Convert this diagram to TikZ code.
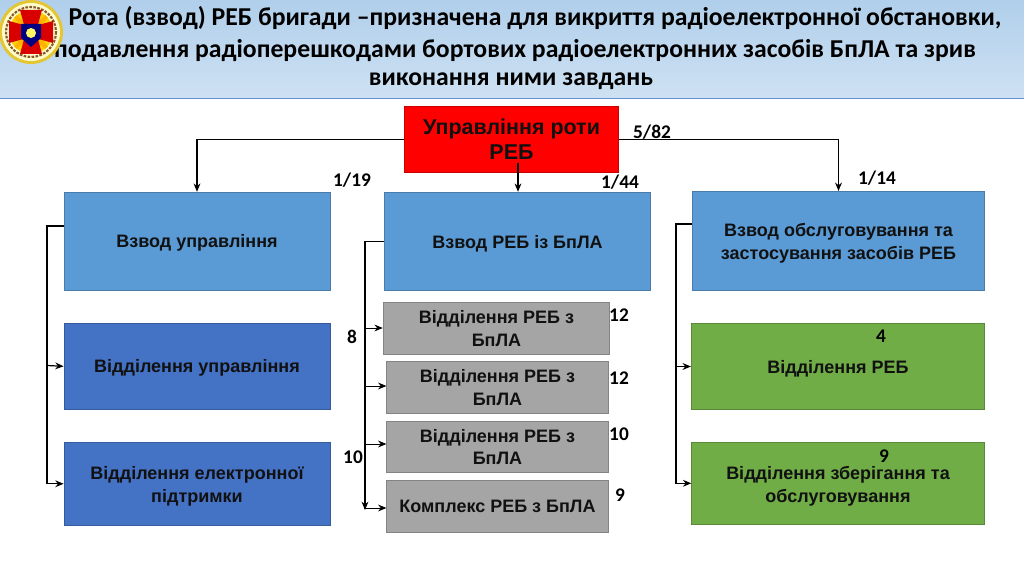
\documentclass[tikz,border=0pt]{standalone}
\usepackage{fontspec}
\setmainfont{Liberation Sans}
\newfontfamily\headfont{Carlito}
\usepackage{xcolor}
\usetikzlibrary{arrows.meta,positioning,calc}
\definecolor{rebblue}{HTML}{5B9BD5}
\definecolor{rebdark}{HTML}{4472C4}
\definecolor{rebgray}{HTML}{A5A5A5}
\definecolor{rebgreen}{HTML}{70AD47}
\definecolor{rebred}{HTML}{FF0000}
\definecolor{rebtext}{HTML}{111111}

\begin{document}
\begin{tikzpicture}[
  x=0.75pt,y=-0.75pt,
  box/.style={draw=#1!80!black,fill=#1,line width=0.6pt,align=center,text=rebtext,font=\fontsize{13.5}{17}\selectfont\bfseries,inner sep=1pt},
  low/.style={text height=12.5pt},
  headline/.style={font=\headfont\fontsize{19.3}{23}\selectfont\bfseries,text=black,inner sep=0pt},
  num/.style={font=\headfont\fontsize{14.5}{17}\selectfont\bfseries,text=black,inner sep=0pt},
  conn/.style={draw=black,line width=0.9pt},
  >={Stealth[length=2.2mm,width=1.8mm]}]

  \useasboundingbox (0,0) rectangle (1024,574);

  % header band
  \fill[top color=rebblue!48!white,bottom color=rebblue!30!white] (0,0) rectangle (1024,98);
  \draw[draw=rebdark!80!white,line width=0.9pt] (0,98.5) -- (1024,98.5);
  \node[headline] (title1) at (535,18) {Рота (взвод) РЕБ бригади –призначена для викриття радіоелектронної обстановки,};
  \node[headline] (title2) at (515,51) {подавлення радіоперешкодами бортових радіоелектронних засобів БпЛА та зрив};
  \node[headline] (title3) at (511,81) {виконання ними завдань};

  % emblem
  \fill[yellow!55!brown] (31,32) circle (32);
  \fill[yellow!20!white] (31,32) circle (29);
  \draw[brown!70!black,line width=1.6pt,dash pattern=on 2pt off 1pt] (31,32) circle (25);
  \fill[yellow!70!orange] (31,32) circle (22);
  \foreach \a in {45,135,225,315}{
    \fill[orange!60!yellow,rotate around={\a:(31,32)}] (28,32) -- (34,32) -- (33,10) -- (29,10) -- cycle;
  }
  \foreach \a in {0,90,180,270}{
    \fill[red!85!black,rotate around={\a:(31,32)}] (26,32) -- (36,32) -- (42,10) -- (20,10) -- cycle;
  }
  \fill[blue!50!black] (21,24) -- (41,24) -- (41,38) -- (31,47) -- (21,38) -- cycle;
  \fill[yellow!60!white] (31,33) circle (5);

  % control
  \node[box=rebred,minimum width=160pt,minimum height=50pt,font=\fontsize{16.1}{19}\selectfont\bfseries] (ctrl) at (511.5,139.5) {Управління роти\\РЕБ};

  % left column
  \node[box=rebblue,low,minimum width=199.5pt,minimum height=74pt] (plt1) at (197,241.5) {Взвод управління};
  \node[box=rebdark,low,minimum width=199.5pt,minimum height=64pt,below=24pt of plt1] (sec1) {Відділення управління};
  \node[box=rebdark,minimum width=199.5pt,minimum height=62pt,below=24.5pt of sec1] (sec2) {\rule{0pt}{14pt}Відділення електронної\\підтримки};

  % middle column
  \node[box=rebblue,low,minimum width=200pt,minimum height=74pt] (plt2) at (517.5,241.5) {Взвод РЕБ із БпЛА};
  \node[box=rebgray,minimum width=170pt,minimum height=39.5pt] (gr1) at (496.5,328.5) {Відділення РЕБ з\\БпЛА};
  \node[box=rebgray,minimum width=166pt,minimum height=38.5pt] (gr2) at (497.5,387.5) {Відділення РЕБ з\\БпЛА};
  \node[box=rebgray,minimum width=166pt,minimum height=38.5pt,below=5.5pt of gr2] (gr3) {Відділення РЕБ з\\БпЛА};
  \node[box=rebgray,minimum width=166pt,minimum height=38.5pt,below=5.5pt of gr3] (gr4) {Комплекс РЕБ з БпЛА};

  % right column
  \node[box=rebblue,minimum width=219.5pt,minimum height=74.5pt] (plt3) at (838.5,241) {\rule{0pt}{13pt}Взвод обслуговування та\\застосування засобів РЕБ};
  \node[box=rebgreen,low,minimum width=220pt,minimum height=64pt] (sec3) at (838,366.5) {Відділення РЕБ};
  \node[box=rebgreen,minimum width=219.5pt,minimum height=62pt,below=24pt of sec3] (sec4) {\rule{0pt}{14pt}Відділення зберігання та\\обслуговування};

  % from control
  \draw[conn,->] (ctrl.west) -| (plt1.north);
  \draw[conn,->] (ctrl.east) -| (plt3.north);
  \coordinate (ctrlin) at (518,163);
  \draw[conn,->] (ctrlin) -- (ctrlin |- plt2.north);

  % left bus
  \coordinate (lbus) at (64,226);
  \draw[conn,->] (lbus) -- ++(-17,0) |- (sec2.west);
  \coordinate (lb1) at (47,365.5);
  \draw[conn,->] (lb1) -- (sec1.west);

  % middle bus
  \coordinate (mend) at (365,510);
  \draw[conn,->] (plt2.west) -| (mend);
  \foreach \n/\y in {gr1/328,gr2/386,gr3/444,gr4/508}{
    \coordinate (b\n) at (364,\y);
    \draw[conn,line width=0.7pt,->] (b\n) -- (b\n -| \n.west);
  }

  % right bus
  \coordinate (rbus) at (692,224);
  \draw[conn,->] (rbus) -- ++(-16,0) |- (sec4.west);
  \coordinate (rb1) at (676,366.5);
  \draw[conn,->] (rb1) -- (sec3.west);

  % strengths
  \node[num] (n1) at (652,132) {5/82};
  \node[num] (n2) at (352,180) {1/19};
  \node[num] (n3) at (620,182) {1/44};
  \node[num] (n4) at (877,178) {1/14};
  \node[num] (n5) at (619,315) {12};
  \node[num] (n6) at (619,378) {12};
  \node[num] (n7) at (619,434) {10};
  \node[num] (n8) at (620,495) {9};
  \node[num] (n9) at (352,337) {8};
  \node[num] (n10) at (353,457) {10};
  \node[num] (n11) at (881,336) {4};
  \node[num] (n12) at (884,456) {9};

\end{tikzpicture}
\end{document}
